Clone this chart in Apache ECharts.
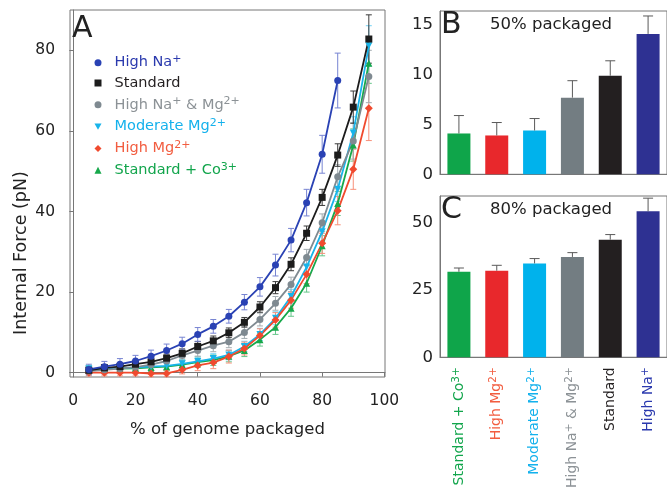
<!DOCTYPE html>
<html>
<head>
<meta charset="utf-8">
<script src="https://cdn.jsdelivr.net/npm/echarts@6.0.0/dist/echarts.min.js"></script>
<style>
  html, body { margin: 0; padding: 0; background: #fff; }
  #main { width: 667px; height: 491px; }
</style>
</head>
<body>
<div id="main"></div>
<script>
var FONT = 'DejaVu Sans';

// conditions, same order as the bars (left to right)
var categories = ['Standard + Co^{3+}', 'High Mg^{2+}', 'Moderate Mg^{2+}', 'High Na^{+} & Mg^{2+}', 'Standard', 'High Na^{+}'];

// panel A: % of genome packaged
var pct = [5, 10, 15, 20, 25, 30, 35, 40, 45, 50, 55, 60, 65, 70, 75, 80, 85, 90, 95];
var xTicksA = [0, 20, 40, 60, 80, 100];
var yTicksA = [0, 20, 40, 60, 80];

// internal force (pN) per condition
var stdCo = [0.8, 1.0, 1.0, 1.1, 1.3, 1.5, 2.0, 2.6, 3.1, 4.1, 5.5, 8.2, 11.3, 16.0, 22.2, 31.5, 42.0, 56.5, 76.8];
var stdCoErr = [1.0, 1.0, 1.0, 1.0, 1.0, 1.0, 1.2, 1.3, 1.3, 1.4, 1.5, 1.6, 1.8, 2.0, 2.2, 2.5, 3.0, 4.0, 5.0];
var highMg = [0.0, 0.0, 0.0, 0.0, -0.2, -0.2, 0.7, 1.8, 2.5, 4.0, 6.0, 9.2, 13.1, 18.0, 24.4, 32.1, 40.2, 50.5, 65.6];
var highMgErr = [0.8, 0.8, 0.8, 0.8, 0.8, 0.8, 1.0, 1.3, 1.5, 1.6, 1.6, 1.7, 1.8, 2.0, 2.3, 2.5, 3.5, 5.0, 8.0];
var modMg = [0.9, 1.0, 1.1, 1.3, 1.5, 1.7, 2.2, 2.8, 3.5, 4.4, 6.5, 9.5, 13.5, 18.9, 26.2, 35.0, 45.5, 59.5, 81.1];
var modMgErr = [0.8, 0.8, 0.8, 0.8, 0.9, 0.9, 1.0, 1.1, 1.2, 1.2, 1.3, 1.5, 1.6, 1.8, 2.0, 2.3, 3.0, 4.0, 5.0];
var highNaMg = [0.4, 0.7, 1.0, 1.4, 2.0, 2.9, 4.3, 5.5, 6.7, 7.7, 10.0, 13.2, 17.2, 21.9, 28.6, 37.2, 48.6, 57.5, 73.5];
var highNaMgErr = [1.0, 1.0, 1.0, 1.0, 1.2, 1.2, 1.3, 1.4, 1.5, 1.5, 1.5, 1.6, 1.7, 1.8, 2.0, 2.2, 3.0, 4.5, 6.5];
var standard = [0.6, 1.2, 1.5, 2.1, 2.7, 3.6, 4.8, 6.5, 7.9, 9.9, 12.5, 16.3, 21.1, 26.9, 34.6, 43.5, 54.0, 65.9, 82.8];
var standardErr = [0.8, 0.8, 0.8, 0.9, 1.0, 1.0, 1.1, 1.2, 1.2, 1.2, 1.2, 1.3, 1.5, 1.6, 1.8, 2.0, 2.8, 4.0, 6.0];
var highNa = [0.8, 1.5, 2.1, 2.9, 4.1, 5.5, 7.2, 9.5, 11.5, 14.0, 17.5, 21.3, 26.7, 32.9, 42.2, 54.2, 72.5];
var highNaErr = [1.3, 1.3, 1.4, 1.4, 1.5, 1.6, 1.6, 1.7, 1.7, 1.7, 1.9, 2.3, 2.7, 2.9, 3.3, 4.7, 6.8];

// panels B and C
var force50 = [4.1, 3.9, 4.4, 7.7, 9.9, 14.1];
var force50Err = [1.8, 1.3, 1.2, 1.7, 1.5, 1.8];
var force80 = [31.7, 32.1, 34.8, 37.2, 43.6, 54.1];
var force80Err = [1.4, 2.0, 1.8, 1.6, 1.9, 4.9];
var yTicksB = [0, 5, 10, 15];
var yTicksC = [0, 25, 50];

var lineData = [stdCo, highMg, modMg, highNaMg, standard, highNa];
var lineErr = [stdCoErr, highMgErr, modMgErr, highNaMgErr, standardErr, highNaErr];

var downTri = 'path://M0,0L10,0L5,9Z';
var symbols = ['triangle', 'diamond', downTri, 'circle', 'rect', 'circle'];
var symbolSizes = [7, 8, 7, 7, 7, 7];
var lineColors = ['#17a84b', '#f04a2e', '#18b4ea', '#7f8a91', '#1c1c1c', '#2a42b4'];
var errColors = ['#66c68a', '#f7917a', '#74d2f4', '#a3acb1', '#3a3a3a', '#7784d2'];
var barColors = ['#0fa54a', '#e8282c', '#00b2ec', '#737d82', '#231f20', '#2e3192'];
var textColors = ['#12a54c', '#f25d40', '#14b1ec', '#8c9296', '#231f20', '#2b3aae'];
var drawOrder = [0, 2, 1, 3, 4, 5];

// 'High Na^{+}' -> rich text with superscripts
function richName(name, key) {
  return name.split(/\^\{([^}]*)\}/).map(function (part, j) {
    return part ? '{' + (j % 2 ? 's' : 'b') + key + '|' + part + '}' : '';
  }).join('');
}

function addRich(rich, key, color, size, supSize, lh, supLh) {
  rich['b' + key] = { color: color, fontFamily: FONT, fontSize: size, lineHeight: lh };
  rich['s' + key] = { color: color, fontFamily: FONT, fontSize: supSize, lineHeight: supLh, verticalAlign: 'top' };
}

var legendRich = { pad: { width: 8, lineHeight: 18 } };
var axisRich = {};
categories.forEach(function (c, i) {
  addRich(legendRich, 'L' + i, textColors[i], 14.5, 11, 18, 10);
  addRich(axisRich, 'C' + i, textColors[i], 14, 10.5, 17, 9);
});

function errorBar(capHalf, color, upOnly) {
  return function (params, api) {
    var x = api.value(0), y = api.value(1), e = api.value(2);
    var hi = api.coord([x, y + e]);
    var lo = upOnly ? api.coord([x, y]) : api.coord([x, y - e]);
    var st = { stroke: color, lineWidth: 1 };
    var kids = [
      { type: 'line', shape: { x1: lo[0], y1: lo[1], x2: hi[0], y2: hi[1] }, style: st },
      { type: 'line', shape: { x1: hi[0] - capHalf, y1: hi[1], x2: hi[0] + capHalf, y2: hi[1] }, style: st }
    ];
    if (!upOnly) {
      kids.push({ type: 'line', shape: { x1: lo[0] - capHalf, y1: lo[1], x2: lo[0] + capHalf, y2: lo[1] }, style: st });
    }
    return { type: 'group', children: kids };
  };
}

var series = [];
drawOrder.forEach(function (i) {
  series.push({
    type: 'custom', xAxisIndex: 0, yAxisIndex: 0, z: 1, silent: true,
    renderItem: errorBar(3, errColors[i], false),
    data: lineData[i].map(function (v, k) { return [pct[k], v, lineErr[i][k]]; })
  });
});
drawOrder.forEach(function (i) {
  series.push({
    name: categories[i], type: 'line', xAxisIndex: 0, yAxisIndex: 0, z: 3,
    symbol: symbols[i], symbolSize: symbolSizes[i],
    lineStyle: { color: lineColors[i], width: 1.8 },
    itemStyle: { color: lineColors[i] },
    data: lineData[i].map(function (v, k) { return [pct[k], v]; })
  });
});

[[force50, force50Err], [force80, force80Err]].forEach(function (pair, g) {
  series.push({
    type: 'bar', xAxisIndex: g + 1, yAxisIndex: g + 1, barWidth: 23,
    data: pair[0].map(function (v, i) { return { value: v, itemStyle: { color: barColors[i] } }; })
  });
  series.push({
    type: 'custom', xAxisIndex: g + 1, yAxisIndex: g + 1, z: 3, silent: true,
    renderItem: errorBar(5, '#5a5a5a', true),
    data: pair[0].map(function (v, i) { return [i, v, pair[1][i]]; })
  });
});

var axisLine = { show: true, lineStyle: { color: '#777', width: 1 } };
var tickStyle = { color: '#777', width: 1 };

var option = {
  animation: false,
  backgroundColor: '#fff',
  textStyle: { fontFamily: FONT },
  title: [
    { text: 'A', left: 72, top: 14, padding: 0, textStyle: { fontFamily: FONT, fontSize: 30, fontWeight: 'normal', color: '#222' } },
    { text: 'B', left: 441, top: 10.5, padding: 0, textStyle: { fontFamily: FONT, fontSize: 30, fontWeight: 'normal', color: '#222' } },
    { text: 'C', left: 441, top: 195, padding: 0, textStyle: { fontFamily: FONT, fontSize: 30, fontWeight: 'normal', color: '#222' } },
    { text: '50% packaged', left: 490, top: 16, padding: 0, textStyle: { fontFamily: FONT, fontSize: 16.5, fontWeight: 'normal', color: '#222' } },
    { text: '80% packaged', left: 490, top: 201, padding: 0, textStyle: { fontFamily: FONT, fontSize: 16.5, fontWeight: 'normal', color: '#222' } }
  ],
  legend: {
    orient: 'vertical', left: 94.5, top: 53.7, padding: 0,
    itemGap: 5.3, itemWidth: 7, itemHeight: 7, selectedMode: false,
    data: [5, 4, 3, 2, 1, 0].map(function (i) {
      return { name: categories[i], icon: symbols[i] };
    }),
    formatter: function (name) {
      return '{pad| }' + richName(name, 'L' + categories.indexOf(name));
    },
    textStyle: { rich: legendRich }
  },
  grid: [
    { left: 70, top: 10, width: 315, height: 367, show: true, borderColor: '#777', borderWidth: 1 },
    { left: 440, top: 11, width: 228.6, height: 163.3, show: true, borderColor: '#777', borderWidth: 1 },
    { left: 440, top: 196, width: 228.6, height: 163.3, show: true, borderColor: '#777', borderWidth: 1 }
  ],
  xAxis: [
    {
      gridIndex: 0, type: 'value', min: -1.06, max: 100.2,
      axisLine: axisLine, splitLine: { show: false },
      axisTick: { customValues: xTicksA, length: 4, lineStyle: tickStyle },
      axisLabel: { customValues: xTicksA, fontSize: 15.5, color: '#222', margin: 16 },
      name: '% of genome packaged', nameLocation: 'middle', nameGap: 44,
      nameTextStyle: { fontSize: 16.5, color: '#222' }
    },
    {
      gridIndex: 1, type: 'category', data: categories,
      axisLine: axisLine, axisTick: { alignWithLabel: true, length: 4, lineStyle: tickStyle },
      axisLabel: { show: false }
    },
    {
      gridIndex: 2, type: 'category', data: categories,
      axisLine: axisLine, axisTick: { alignWithLabel: true, length: 4, lineStyle: tickStyle },
      axisLabel: {
        rotate: 90, margin: 10, interval: 0,
        formatter: function (value, index) { return richName(value, 'C' + index); },
        rich: axisRich
      }
    }
  ],
  yAxis: [
    {
      gridIndex: 0, type: 'value', min: -1.07, max: 90,
      axisLine: axisLine, splitLine: { show: false },
      axisTick: { customValues: yTicksA, length: 4, lineStyle: tickStyle },
      axisLabel: { customValues: yTicksA, fontSize: 15.5, color: '#222', margin: 15 },
      name: 'Internal Force (pN)', nameLocation: 'middle', nameGap: 40,
      nameTextStyle: { fontSize: 17.5, color: '#222', padding: [0, 119, 0, 0] }
    },
    {
      gridIndex: 1, type: 'value', min: 0, max: 16.4,
      axisLine: axisLine, splitLine: { show: false },
      axisTick: { customValues: yTicksB, length: 3, lineStyle: tickStyle },
      axisLabel: { customValues: yTicksB, fontSize: 16.5, color: '#222', margin: 7 }
    },
    {
      gridIndex: 2, type: 'value', min: 0, max: 59.8,
      axisLine: axisLine, splitLine: { show: false },
      axisTick: { customValues: yTicksC, length: 3, lineStyle: tickStyle },
      axisLabel: { customValues: yTicksC, fontSize: 16.5, color: '#222', margin: 7 }
    }
  ],
  series: series
};

var myChart = echarts.init(document.getElementById('main'));
myChart.setOption(option);
</script>
</body>
</html>
